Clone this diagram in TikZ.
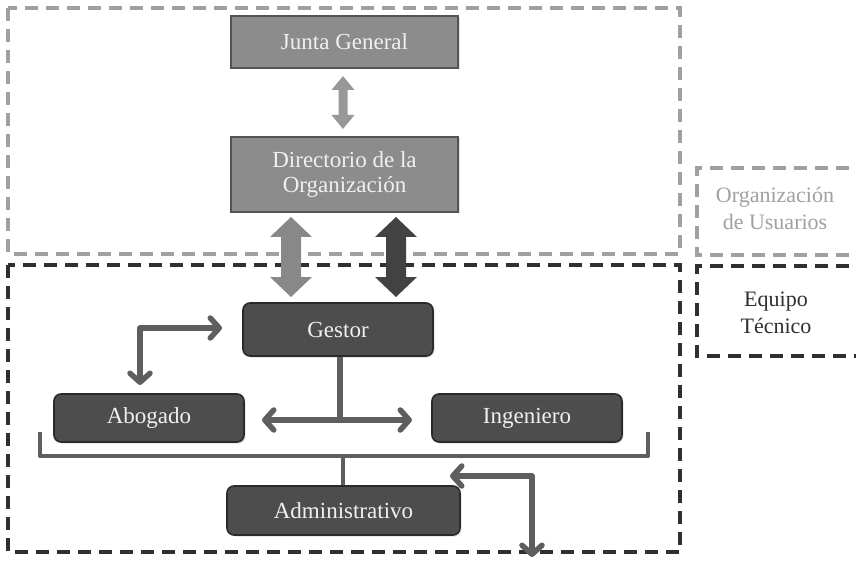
\documentclass[tikz,border=0pt]{standalone}
\usepackage{fontspec}
\setmainfont{Liberation Serif}
\usetikzlibrary{arrows.meta,shadows}
\definecolor{lightbox}{HTML}{8C8C8C}
\definecolor{lightedge}{HTML}{555555}
\definecolor{darkbox}{HTML}{4D4D4D}
\definecolor{darkedge}{HTML}{2A2A2A}
\definecolor{linkgray}{HTML}{5E5E5E}
\definecolor{dashlight}{HTML}{A0A0A0}
\definecolor{dashdark}{HTML}{2F2F2F}
\definecolor{fatlight}{HTML}{888888}
\definecolor{fatdark}{HTML}{424242}
\definecolor{smallarrow}{HTML}{989898}
\tikzset{
  boxtext/.style={text=white!94!black, font=\fontsize{23}{26}\selectfont, align=center, inner sep=0pt},
  upperbox/.style={boxtext, fill=lightbox, draw=lightedge, line width=1.8pt,
    drop shadow={opacity=0.25, shadow xshift=1.5pt, shadow yshift=-1.5pt}},
  lowerbox/.style={boxtext, fill=darkbox, draw=darkedge, line width=1.6pt, rounded corners=7pt,
    drop shadow={opacity=0.25, shadow xshift=1.5pt, shadow yshift=-1.5pt}},
  link/.style={draw=linkgray, line width=5.5pt, line join=round},
  linktip/.style={link, {Straight Barb[length=9pt,width=20pt,line join=round,line cap=round]}-{Straight Barb[length=9pt,width=20pt,line join=round,line cap=round]}},
  lightframe/.style={draw=dashlight, line width=3.2pt, dash pattern=on 13pt off 8pt},
  darkframe/.style={draw=dashdark, line width=3.2pt, dash pattern=on 13pt off 8pt},
  legendtext/.style={font=\fontsize{22}{27}\selectfont, align=center, inner sep=0pt},
}
% vertical double-headed block arrow: x, top tip, bottom tip, head half-width, shaft half-width, head length
\newcommand\blockarrow[7]{%
  \fill[#7] (#1,#2) -- (#1+#4,#2+#6) -- (#1+#5,#2+#6) -- (#1+#5,#3-#6) -- (#1+#4,#3-#6)
    -- (#1,#3) -- (#1-#4,#3-#6) -- (#1-#5,#3-#6) -- (#1-#5,#2+#6) -- (#1-#4,#2+#6) -- cycle;}
\begin{document}
\begin{tikzpicture}[x=1pt,y=-1pt]
\useasboundingbox (0,0) rectangle (856,561);

% group frames
\draw[lightframe] (8,8) rectangle (680,254);
\draw[darkframe] (8,265) rectangle (680,552);

% legend frames (open on the right)
\draw[lightframe] (870,168) -- (697,168) -- (697,255) -- (870,255);
\draw[darkframe] (870,266) -- (697,266) -- (697,356) -- (870,356);
\node[legendtext, text=dashlight] (lgU) at (775,208) {Organización\\de Usuarios};
\node[legendtext, text=dashdark] (lgT) at (776,313) {Equipo\\Técnico};

% organisation boxes
\node[upperbox, minimum width=227pt, minimum height=52pt] (junta) at (344.5,42) {Junta General};
\node[upperbox, minimum width=227pt, minimum height=75pt] (dir) at (344.5,174.5) {Directorio de la\\[-1pt]Organización};

% block arrows between the levels
\blockarrow{343}{76}{129}{11.5}{4.5}{14}{smallarrow}
\blockarrow{291}{217}{297}{21}{10}{20}{fatlight}
\blockarrow{396}{217}{297}{21}{10}{20}{fatdark}

% technical team boxes
\node[lowerbox, minimum width=190pt, minimum height=53pt] (gestor) at (338,329.5) {Gestor};
\node[lowerbox, minimum width=190pt, minimum height=48pt] (abog) at (149,418) {Abogado};
\node[lowerbox, minimum width=190pt, minimum height=48pt] (ing) at (527,418) {Ingeniero};
\node[lowerbox, minimum width=233pt, minimum height=49pt] (admin) at (343.5,510.5) {Administrativo};

% gestor to abogado / ingeniero
\coordinate (gfork) at (340,420);
\coordinate (toAbog) at (262,420);
\coordinate (toIng) at (412,420);
\draw[link] (gestor.south -| gfork) -- (gfork);
\draw[linktip] (toAbog) -- (toIng);

% elbow between abogado and gestor
\coordinate (abogIn) at (140,385);
\coordinate (gestIn) at (222,328);
\draw[linktip] (abogIn) |- (gestIn);

% bracket under the second row and stem to administrativo
\coordinate (brL) at (40,432);
\coordinate (brR) at (648,432);
\coordinate (brMid) at (343,456);
\draw[link, line width=4.5pt] (brL) |- (brR |- brMid) -- (brR);
\draw[link, line width=4.5pt] (brMid) -- (admin.north -| brMid);

% elbow from administrativo leaving the team
\coordinate (adminIn) at (450,476);
\coordinate (outside) at (532,557);
\draw[linktip] (adminIn) -| (outside);
\end{tikzpicture}
\end{document}
